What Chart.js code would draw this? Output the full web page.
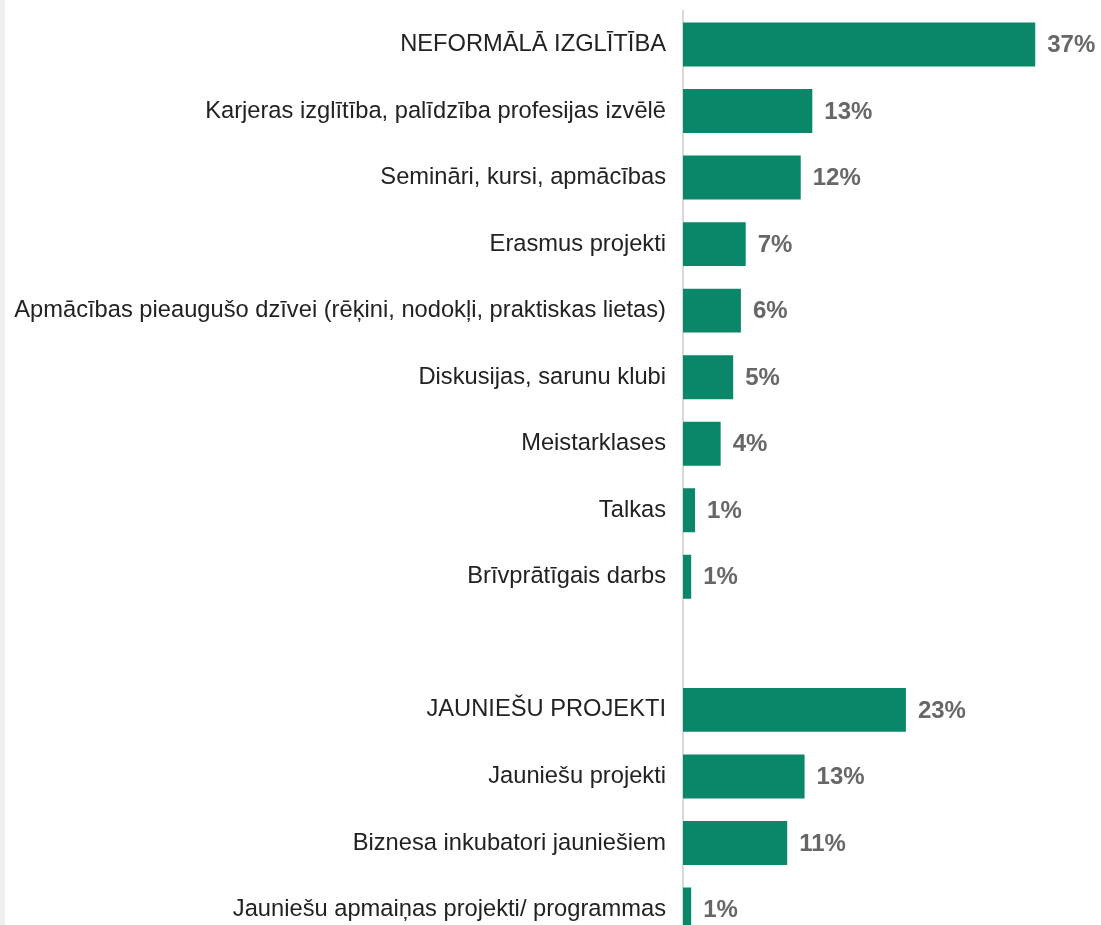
<!DOCTYPE html>
<html>
<head>
<meta charset="utf-8">
<script src="https://cdn.jsdelivr.net/npm/chart.js@4"></script>
<style>
    html, body { margin: 0; padding: 0; background: #fff; overflow: hidden; }
    #wrap { border-left: 5px solid #efefef; width: 1096px; height: 925px; overflow: hidden; }
    #myChart { display: block; margin-top: -20px; }
</style>
</head>
<body>
<div id="wrap"><canvas id="myChart" width="1096" height="994"></canvas></div>
<script>
const categories = [
    "NEFORMĀLĀ IZGLĪTĪBA",
    "Karjeras izglītība, palīdzība profesijas izvēlē",
    "Semināri, kursi, apmācības",
    "Erasmus projekti",
    "Apmācības pieaugušo dzīvei (rēķini, nodokļi, praktiskas lietas)",
    "Diskusijas, sarunu klubi",
    "Meistarklases",
    "Talkas",
    "Brīvprātīgais darbs",
    "",
    "JAUNIEŠU PROJEKTI",
    "Jauniešu projekti",
    "Biznesa inkubatori jauniešiem",
    "Jauniešu apmaiņas projekti/ programmas",
];
// bar lengths (percent)
const values = [36.5, 13.4, 12.2, 6.5, 6.0, 5.2, 3.9, 1.25, 0.85, null, 23.1, 12.6, 10.8, 0.85];
// printed labels
const valueLabels = ["37%", "13%", "12%", "7%", "6%", "5%", "4%", "1%", "1%", "", "23%", "13%", "11%", "1%"];

const barLabels = {
    id: "barLabels",
    afterDatasetsDraw(chart) {
        const ctx = chart.ctx;
        const meta = chart.getDatasetMeta(0);
        ctx.save();
        ctx.font = "bold 24px 'Liberation Sans', Arial, sans-serif";
        ctx.fillStyle = "#676767";
        ctx.textAlign = "left";
        ctx.textBaseline = "middle";
        meta.data.forEach((bar, i) => {
            if (values[i] == null) return;
            ctx.fillText(valueLabels[i], bar.x + 12, bar.y + 1);
        });
        ctx.restore();
    },
};

const ctx = document.getElementById("myChart");
new Chart(ctx, {
    type: "bar",
    data: {
        labels: categories,
        datasets: [
            {
                data: values,
                backgroundColor: "#0a8768",
                borderWidth: 0,
                barPercentage: 1,
                categoryPercentage: 0.66,
            },
        ],
    },
    options: {
        indexAxis: "y",
        responsive: false,
        animation: false,
        layout: { padding: { top: 0, bottom: 0, left: 0, right: 32 } },
        plugins: { legend: { display: false }, tooltip: { enabled: false } },
        scales: {
            x: {
                display: false,
                min: 0,
                max: 40,
            },
            y: {
                afterFit: (scale) => { scale.width = 678; },
                grid: { display: false, drawTicks: false },
                border: { display: true, color: "#d9d9d9", width: 2 },
                ticks: {
                    padding: 17,
                    color: "#222",
                    font: { family: "'Liberation Sans', Arial, sans-serif", size: 23.7 },
                },
            },
        },
    },
    plugins: [barLabels],
});
</script>
</body>
</html>
